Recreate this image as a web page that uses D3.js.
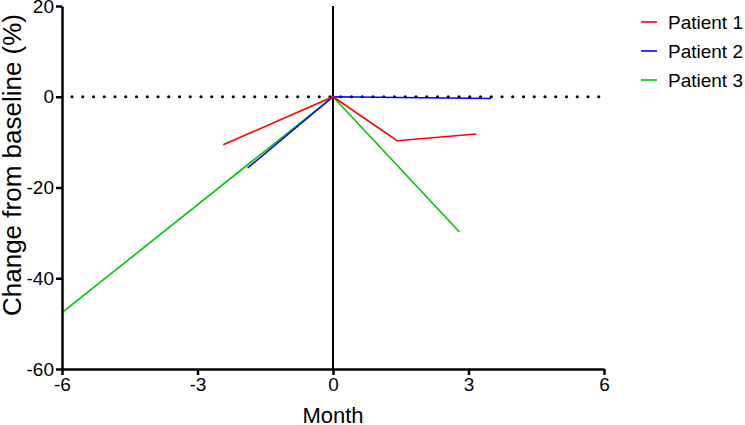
<!DOCTYPE html>
<html>
<head>
<meta charset="utf-8">
<script src="https://cdn.jsdelivr.net/npm/d3@7"></script>
<style>
  body { margin: 0; background: #fff; }
  text { font-family: "Liberation Sans", Arial, sans-serif; fill: #000; }
</style>
</head>
<body>
<script>
// values
const seriesNames = ["Patient 1", "Patient 2", "Patient 3"];
const seriesColors = ["#ff0000", "#0000ff", "#00c400"];

const months1 = [-2.43, 0, 1.42, 3.17];
const change1 = [-10.6, 0, -9.7, -8.2];
const months2 = [-1.89, 0, 3.5];
const change2 = [-15.7, 0, -0.4];
const months3 = [-6, 0, 2.8];
const change3 = [-47.6, 0, -29.8];

const xTicks = [-6, -3, 0, 3, 6];
const yTicks = [-60, -40, -20, 0, 20];

const series = [
  {name: seriesNames[0], color: seriesColors[0], pts: months1.map((m, i) => [m, change1[i]])},
  {name: seriesNames[1], color: seriesColors[1], pts: months2.map((m, i) => [m, change2[i]])},
  {name: seriesNames[2], color: seriesColors[2], pts: months3.map((m, i) => [m, change3[i]])}
];

const width = 745, height = 425;
const svg = d3.select("body").append("svg")
  .attr("width", width)
  .attr("height", height);

const x = d3.scaleLinear().domain([-6, 6]).range([62, 604]);
const y = d3.scaleLinear().domain([-60, 20]).range([369, 6]);

// zero reference line (dotted)
svg.append("line")
  .attr("x1", x(-6) + 10).attr("x2", x(6))
  .attr("y1", y(0)).attr("y2", y(0))
  .attr("stroke", "#000")
  .attr("stroke-width", 3.2)
  .attr("stroke-linecap", "round")
  .attr("stroke-dasharray", "0,10.75");

// vertical line at month 0
svg.append("line")
  .attr("x1", x(0)).attr("x2", x(0))
  .attr("y1", y(20)).attr("y2", y(-60))
  .attr("stroke", "#000")
  .attr("stroke-width", 2);

const line = d3.line().x(d => x(d[0])).y(d => y(d[1]));

// draw green first, red last (red sits on top at the origin)
svg.selectAll(".series")
  .data(series.slice().reverse())
  .enter().append("path")
  .attr("class", "series")
  .attr("d", d => line(d.pts))
  .attr("fill", "none")
  .attr("stroke", d => d.color)
  .attr("stroke-width", 1.6);

// axes (plain hyphen for negatives, like the original)
const fmt = d => String(d);

const xAxis = svg.append("g")
  .attr("transform", "translate(0," + y(-60) + ")")
  .call(d3.axisBottom(x).tickValues(xTicks).tickFormat(fmt).tickSize(6).tickSizeOuter(0).tickPadding(3));

const yAxis = svg.append("g")
  .attr("transform", "translate(" + x(-6) + ",0)")
  .call(d3.axisLeft(y).tickValues(yTicks).tickFormat(fmt).tickSize(6).tickSizeOuter(0).tickPadding(2));

[xAxis, yAxis].forEach(g => {
  g.select(".domain").attr("stroke", "#000").attr("stroke-width", 2.5);
  g.selectAll(".tick line").attr("stroke", "#000").attr("stroke-width", 2.5);
  g.selectAll(".tick text")
    .style("font-family", "'Liberation Sans', Arial, sans-serif")
    .style("font-size", "19px")
    .attr("fill", "#000");
});

// axis titles
svg.append("text")
  .attr("x", x(0))
  .attr("y", 423)
  .style("text-anchor", "middle")
  .style("font-size", "22px")
  .text("Month");

svg.append("text")
  .attr("transform", "translate(21," + 165 + ") rotate(-90)")
  .style("text-anchor", "middle")
  .style("font-size", "26px")
  .text("Change from baseline (%)");

// legend
const legend = svg.selectAll(".legend")
  .data(series)
  .enter().append("g")
  .attr("class", "legend")
  .attr("transform", (d, i) => "translate(641," + (22 + i * 29) + ")");

legend.append("line")
  .attr("x1", 0).attr("x2", 16)
  .attr("stroke", d => d.color)
  .attr("stroke-width", 1.6);

legend.append("text")
  .attr("x", 27)
  .attr("dy", "0.35em")
  .style("font-size", "19px")
  .text(d => d.name);
</script>
</body>
</html>
